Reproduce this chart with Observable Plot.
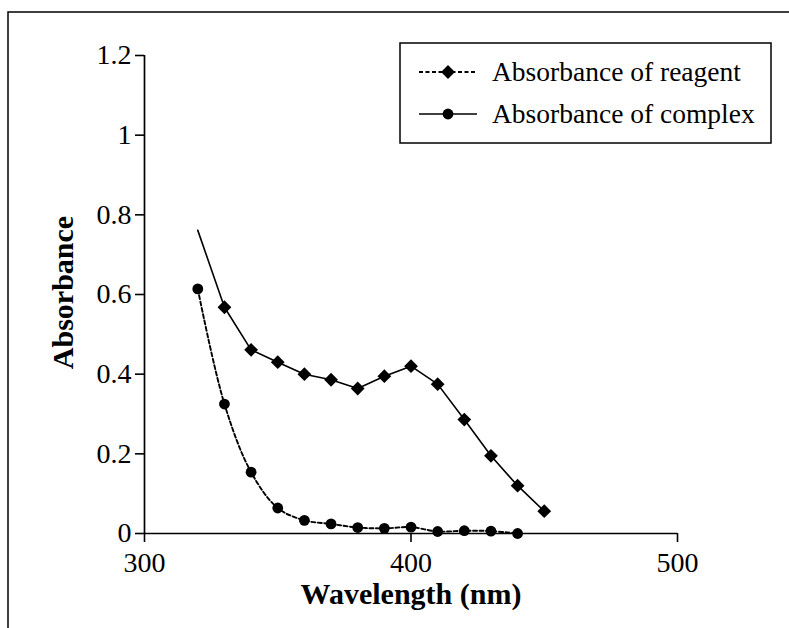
<!DOCTYPE html>
<html><head><meta charset="utf-8">
<script src="https://cdn.jsdelivr.net/npm/d3@7"></script>
<script src="https://cdn.jsdelivr.net/npm/@observablehq/plot@0.6"></script>
<style>body{margin:0;background:#fff} svg{display:block} svg text{font-family:'Liberation Serif', serif}</style>
</head><body><div id="chart"></div>
<script>
// Solid line with diamond markers (first point has no marker)
const complexWavelengths = [320,330,340,350,360,370,380,390,400,410,420,430,440,450];
const complexValues = [0.761,0.568,0.461,0.430,0.400,0.386,0.364,0.395,0.420,0.375,0.286,0.195,0.120,0.056];
// Dotted smooth line with circle markers
const reagentWavelengths = [320,330,340,350,360,370,380,390,400,410,420,430,440];
const reagentValues = [0.614,0.325,0.154,0.064,0.033,0.024,0.015,0.013,0.016,0.005,0.007,0.006,0.000];
const xTicks = [300,400,500];
const yTicks = [0,0.2,0.4,0.6,0.8,1,1.2];
const legendLabels = ["Absorbance of reagent","Absorbance of complex"];
const xTitle = "Wavelength (nm)";
const yTitle = "Absorbance";

const complexData = complexWavelengths.map((w,i)=>({w, v: complexValues[i]}));
const reagentData = reagentWavelengths.map((w,i)=>({w, v: reagentValues[i]}));

const font = "'Liberation Serif', serif";

const chart = Plot.plot({
  width: 789, height: 628,
  marginLeft: 144, marginRight: 112, marginTop: 55, marginBottom: 95,
  x: {domain: [300, 500]},
  y: {domain: [0, 1.2]},
  style: {fontFamily: font, fontSize: "28px", color: "#000", background: "#fff"},
  marks: [
    Plot.ruleY([0], {stroke: "#000", strokeWidth: 1.7}),
    Plot.ruleX([300], {y1: 0, y2: 1.2, stroke: "#000", strokeWidth: 1.7}),
    Plot.axisX({ticks: xTicks, tickSize: 9, tickPadding: 10, label: null, fontSize: 28, strokeWidth: 1.6, tickFormat: d => String(d)}),
    Plot.axisY({ticks: yTicks, tickSize: 9, tickPadding: 4, label: null, fontSize: 28, strokeWidth: 1.6, tickFormat: d => String(d)}),
    Plot.line(complexData, {x: "w", y: "v", stroke: "#000", strokeWidth: 1.6}),
    Plot.line(reagentData, {x: "w", y: "v", stroke: "#000", strokeWidth: 1.9, strokeDasharray: "4,2.5", curve: "catmull-rom"}),
    Plot.dot(complexData.slice(1), {x: "w", y: "v", symbol: "square", rotate: 45, r: 5.5, fill: "#000", stroke: "none"}),
    Plot.dot(reagentData, {x: "w", y: "v", r: 5.4, fill: "#000", stroke: "none"}),
    Plot.text([xTitle], {frameAnchor: "bottom", dy: 70, fontWeight: "bold", fontSize: 30, fill: "#000"}),
    Plot.text([yTitle], {frameAnchor: "left", dx: -81, dy: -2, rotate: -90, textAnchor: "middle", fontWeight: "bold", fontSize: 30, fill: "#000"})
  ]
});

const svg = d3.select(chart);
// outer frame (left and top edges visible)
svg.append("path").attr("d", "M8,628V12H789").attr("fill", "none").attr("stroke", "#000").attr("stroke-width", 1.5);

// legend
const lg = svg.append("g");
lg.append("rect").attr("x", 400).attr("y", 43).attr("width", 371).attr("height", 100)
  .attr("fill", "#fff").attr("stroke", "#000").attr("stroke-width", 1.5);
const rows = [
  {y: 72, dash: "4,2.5", sym: "diamond", label: legendLabels[0]},
  {y: 114, dash: null, sym: "circle", label: legendLabels[1]}
];
rows.forEach(r => {
  const l = lg.append("line").attr("x1", 419).attr("x2", 477).attr("y1", r.y).attr("y2", r.y)
    .attr("stroke", "#000").attr("stroke-width", r.dash ? 1.9 : 1.6);
  if (r.dash) l.attr("stroke-dasharray", r.dash);
  if (r.sym === "diamond") {
    lg.append("path").attr("d", d3.symbol(d3.symbolSquare, Math.PI * 5.5 * 5.5)())
      .attr("transform", `translate(448,${r.y}) rotate(45)`).attr("fill", "#000");
  } else {
    lg.append("circle").attr("cx", 448).attr("cy", r.y).attr("r", 5.4).attr("fill", "#000");
  }
  lg.append("text").attr("x", 492).attr("y", r.y).attr("dy", "0.32em").attr("text-anchor", "start")
    .attr("font-family", font).attr("font-size", 27.5).attr("fill", "#000").text(r.label);
});

document.getElementById("chart").appendChild(chart);
</script>
</body></html>
